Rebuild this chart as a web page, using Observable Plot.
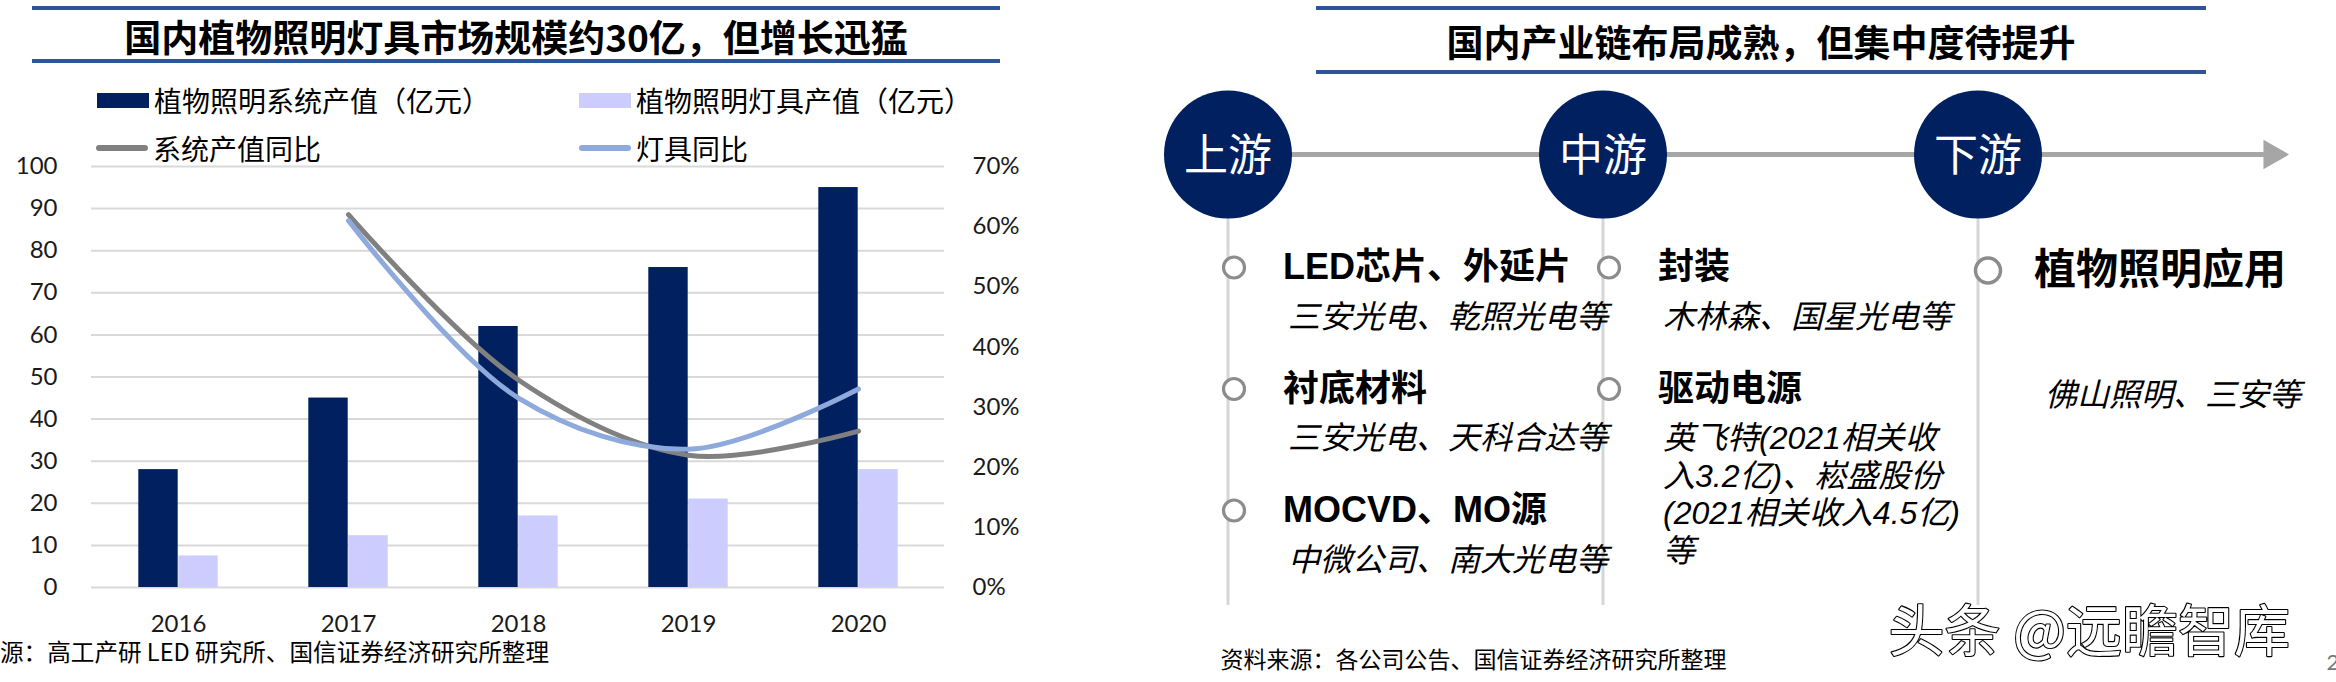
<!DOCTYPE html>
<html>
<head>
<meta charset="utf-8">
<script src="https://cdn.jsdelivr.net/npm/d3@7"></script>
<script src="https://cdn.jsdelivr.net/npm/@observablehq/plot@0.6"></script>
<style>
  html, body { margin: 0; padding: 0; background: #fff; }
  #page { position: relative; width: 2336px; height: 682px; overflow: hidden; background: #fff; }
  .panel { position: absolute; top: 0; }
  .title {
    position: absolute; box-sizing: border-box;
    border-top: 4px solid #2E5597; border-bottom: 4px solid #2E5597;
    display: flex; align-items: center; justify-content: center;
    font: bold 37px "Noto Sans CJK SC", sans-serif; color: #000; white-space: nowrap;
  }
  .legend-item { position: absolute; display: flex; align-items: center; font: 28px "Noto Sans CJK SC", sans-serif; color: #000; white-space: nowrap; }
  .sw { display: inline-block; margin-right: 5px; }
</style>
</head>
<body>
<div id="page">
  <div id="left" class="panel" style="left:0;width:1160px;height:682px"></div>
  <div id="right" class="panel" style="left:1160px;width:1176px;height:682px"></div>
  <div id="leftTitle" class="title" style="left:32px;top:6px;width:968px;height:57px;padding-top:3px"></div>
  <div id="rightTitle" class="title" style="left:1316px;top:6px;width:890px;height:68px;padding-top:2px"></div>
  <div id="legend"></div>
</div>
<script>
// ---------------- data ----------------
const leftTitleText = "国内植物照明灯具市场规模约30亿，但增长迅猛";
const rightTitleText = "国内产业链布局成熟，但集中度待提升";

const years = ["2016", "2017", "2018", "2019", "2020"];
const systemValue = [28, 45, 62, 76, 95];        // 植物照明系统产值（亿元）
const lampValue = [7.5, 12.3, 17, 21, 28];        // 植物照明灯具产值（亿元）
const systemYoY = [null, 62, 34.5, 22, 26];       // 系统产值同比 (%)
const lampYoY = [null, 61, 31.5, 23, 33];         // 灯具同比 (%)
const leftTicks = [0, 10, 20, 30, 40, 50, 60, 70, 80, 90, 100];
const rightTicks = [0, 10, 20, 30, 40, 50, 60, 70];

const seriesNames = ["植物照明系统产值（亿元）", "植物照明灯具产值（亿元）", "系统产值同比", "灯具同比"];
const leftSource = "资料来源：高工产研 LED 研究所、国信证券经济研究所整理";

const stages = ["上游", "中游", "下游"];
const segmentTitles = [
  ["LED芯片、外延片", "衬底材料", "MOCVD、MO源"],
  ["封装", "驱动电源"],
  ["植物照明应用"]
];
const segmentCompanies = [
  [["三安光电、乾照光电等"], ["三安光电、天科合达等"], ["中微公司、南大光电等"]],
  [["木林森、国星光电等"], ["英飞特(2021相关收", "入3.2亿)、崧盛股份", "(2021相关收入4.5亿)", "等"]],
  [[]]
];
const downstreamCompanies = ["佛山照明、三安等"];
const rightSource = "资料来源：各公司公告、国信证券经济研究所整理";
const watermark = "头条 @远瞻智库";
const pageNumber = "2";

// ---------------- styles ----------------
const colSystem = "#002060", colLamp = "#CCCCFF", colSysLine = "#808080", colLampLine = "#8EA9DB";
const cjk = "'Noto Sans CJK SC', sans-serif";
const latinCjk = "'Liberation Sans', 'Noto Sans CJK SC', sans-serif";

document.getElementById("leftTitle").textContent = leftTitleText;
document.getElementById("rightTitle").textContent = rightTitleText;

// legend
const legendSpec = [
  {name: seriesNames[0], color: colSystem, kind: "rect", left: 97, top: 100},
  {name: seriesNames[1], color: colLamp, kind: "rect", left: 579, top: 100},
  {name: seriesNames[2], color: colSysLine, kind: "line", left: 96, top: 148},
  {name: seriesNames[3], color: colLampLine, kind: "line", left: 579, top: 148}
];
const legend = document.getElementById("legend");
for (const it of legendSpec) {
  const d = document.createElement("div");
  d.className = "legend-item";
  d.style.left = it.left + "px";
  d.style.top = (it.top - 20) + "px";
  d.style.height = "40px";
  const s = document.createElement("span");
  s.className = "sw";
  s.style.width = "52px";
  s.style.background = it.color;
  if (it.kind === "rect") { s.style.height = "15px"; }
  else { s.style.height = "6px"; s.style.borderRadius = "3px"; }
  d.appendChild(s);
  const t = document.createElement("span");
  t.textContent = it.name;
  d.appendChild(t);
  legend.appendChild(d);
}

// ---------------- left chart ----------------
const W = 1160, H = 682;
const mL = 91, mR = 216, mT = 166, mB = 95;
const barW = 40;
const bw = (W - mL - mR) / years.length;
const pctToY = p => p * 100 / 70;

const sysBars = years.map((y, i) => ({year: y, value: systemValue[i]}));
const lampBars = years.map((y, i) => ({year: y, value: lampValue[i]}));
const sysLine = years.map((y, i) => ({year: y, pct: systemYoY[i]})).filter(d => d.pct != null);
const lampLine = years.map((y, i) => ({year: y, pct: lampYoY[i]})).filter(d => d.pct != null);

const leftChart = Plot.plot({
  width: W, height: H,
  marginLeft: mL, marginRight: mR, marginTop: mT, marginBottom: mB,
  style: {fontFamily: "Lato, 'Noto Sans CJK SC', sans-serif", fontSize: "24px", color: "#1a1a1a", background: "transparent", overflow: "visible"},
  x: {type: "band", domain: years, padding: 0},
  y: {domain: [0, 100]},
  marks: [
    Plot.ruleY(leftTicks, {stroke: "#D9D9D9", strokeWidth: 2}),
    Plot.barY(sysBars, {x: "year", y: "value", fill: colSystem, insetLeft: bw / 2 - barW, insetRight: bw / 2}),
    Plot.barY(lampBars, {x: "year", y: "value", fill: colLamp, insetLeft: bw / 2, insetRight: bw / 2 - barW}),
    Plot.line(sysLine, {x: "year", y: d => pctToY(d.pct), curve: "catmull-rom", stroke: colSysLine, strokeWidth: 5, strokeLinecap: "round"}),
    Plot.line(lampLine, {x: "year", y: d => pctToY(d.pct), curve: "catmull-rom", stroke: colLampLine, strokeWidth: 5, strokeLinecap: "round"}),
    Plot.axisX({tickSize: 0, tickPadding: 27, label: null}),
    Plot.axisY({ticks: leftTicks, anchor: "left", tickSize: 0, tickPadding: 34, label: null}),
    Plot.axisY({ticks: rightTicks.map(pctToY), anchor: "right", tickSize: 0, tickPadding: 28, label: null,
      tickFormat: d => Math.round(d * 70 / 100) + "%"}),
    Plot.text([leftSource], {x: () => years[2], frameAnchor: "bottom", text: d => d, textAnchor: "end",
      dx: 548 - (mL + 2.5 * bw), dy: 653 - (H - mB), fontFamily: cjk, fontSize: 23.6, fill: "#000", lineAnchor: "middle"})
  ]
});
document.getElementById("left").appendChild(leftChart);

// ---------------- right diagram ----------------
const RW = 1176, RH = 682;
const col0 = 67.5, colGap = 375;             // stage column layout
const circleY = 154, circleR = 64;
const rowTop = 267, rowGap = 121.5;           // row layout
const subOffset = 50, subGap = 37.5;
const colX = i => col0 + i * colGap;
const rowY = r => rowTop + r * rowGap;

const stageData = stages.map((s, i) => ({name: s, x: colX(i)}));
const items = [];
const subs = [];
segmentTitles.forEach((list, i) => list.forEach((t, r) => {
  const big = i === stages.length - 1;
  items.push({title: t, x: colX(i), y: rowY(r) + (big ? 3 : 0), big});
  segmentCompanies[i][r].forEach((line, j) => subs.push({text: line, x: colX(i), y: rowY(r) + subOffset + j * subGap}));
}));
const noteData = downstreamCompanies.map(t => ({text: t, x: colX(2), y: rowY(1) + 7}));
const arrowTip = colX(2) + 311;

const rightChart = Plot.plot({
  width: RW, height: RH, margin: 0,
  x: {domain: [0, RW], range: [0, RW], axis: null},
  y: {domain: [0, RH], range: [0, RH], axis: null},
  style: {fontFamily: latinCjk, background: "transparent", overflow: "visible"},
  marks: [
    Plot.ruleX(stageData, {x: "x", y1: circleY, y2: 605, stroke: "#D6D6D6", strokeWidth: 3}),
    Plot.ruleY([circleY], {x1: colX(0), x2: arrowTip - 20, y: d => d, stroke: "#A6A6A6", strokeWidth: 5}),
    Plot.dot([circleY], {x: arrowTip - 17, y: d => d, symbol: "triangle", rotate: 90, r: 11, fill: "#A6A6A6", stroke: "none"}),
    Plot.dot(stageData, {x: "x", y: circleY, r: circleR, fill: colSystem, stroke: "none"}),
    Plot.text(stageData, {x: "x", y: circleY + 2, text: "name", fill: "#fff", fontSize: 44, fontFamily: cjk}),
    Plot.dot(items.filter(d => !d.big), {x: d => d.x + 6, y: "y", r: 10.5, stroke: "#8C8C8C", strokeWidth: 3.2, fill: "#fff"}),
    Plot.dot(items.filter(d => d.big), {x: d => d.x + 10, y: "y", r: 12.5, stroke: "#8C8C8C", strokeWidth: 3.5, fill: "#fff"}),
    Plot.text(items.filter(d => !d.big), {x: "x", y: "y", dx: 55, text: "title", textAnchor: "start", fontSize: 36, fontWeight: "bold", fill: "#000"}),
    Plot.text(items.filter(d => d.big), {x: "x", y: "y", dx: 56, text: "title", textAnchor: "start", fontSize: 42, fontWeight: "bold", fill: "#000"}),
    Plot.text(subs, {x: "x", y: "y", dx: 60, text: "text", textAnchor: "start", fontSize: 32, fontStyle: "italic", fill: "#000"}),
    Plot.text(noteData, {x: "x", y: "y", dx: 67, text: "text", textAnchor: "start", fontSize: 32, fontStyle: "italic", fill: "#000"}),
    Plot.text([rightSource], {x: 60, y: 660, text: d => d, textAnchor: "start", fontSize: 23, fontFamily: cjk, fill: "#000"}),
    Plot.text([watermark], {x: 728, y: 633, text: d => d, textAnchor: "start", fontSize: 56, fontFamily: cjk, fill: "#fff", stroke: "#000", strokeWidth: 2.2}),
    Plot.text([pageNumber], {x: 1166, y: 662, text: d => d, textAnchor: "start", fontSize: 22, fill: "#777", fontFamily: "Lato, sans-serif"})
  ]
});
document.getElementById("right").appendChild(rightChart);
</script>
</body>
</html>
